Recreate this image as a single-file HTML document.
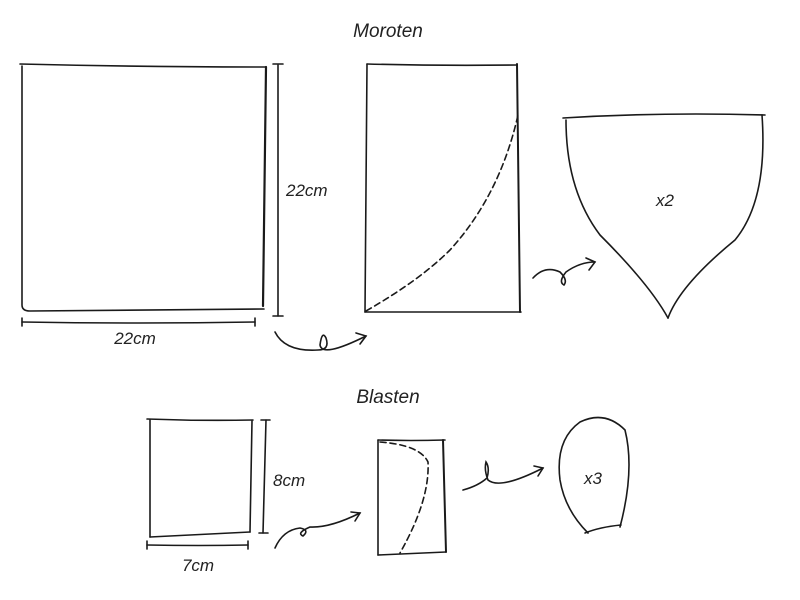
<!DOCTYPE html>
<html><head><meta charset="utf-8"><style>
html,body{margin:0;padding:0;background:#fff;}
svg{display:block;}
text{font-family:"Liberation Sans",sans-serif;font-style:italic;fill:#222;}
</style></head><body>
<svg width="800" height="600" viewBox="0 0 800 600" fill="none" stroke="#1a1a1a" stroke-width="1.6" stroke-linecap="round">
<text x="388" y="37" font-size="19" text-anchor="middle" stroke="none">Moroten</text>
<!-- big square -->
<path d="M20 64 Q140 67 266 67"/>
<path d="M22 66 L22 305 Q22 311 30 311 L264 309"/>
<path d="M266 67 L263 306" stroke-width="2.2"/>
<path d="M278 65 L278 316" /><path d="M273 64 L283 64"/><path d="M273 316 L283 316"/>
<text x="286" y="196" font-size="17" stroke="none">22cm</text>
<path d="M22 322 Q140 324 255 322"/><path d="M22 318 L22 326"/><path d="M255 318 L255 326"/>
<text x="135" y="344" font-size="17" text-anchor="middle" stroke="none">22cm</text>
<!-- arrow 1 -->
<path d="M275 332 Q285 352 318 350 Q330 350 326 338 Q322 330 320 345 Q322 358 366 336"/>
<path d="M356 333 L366 336 L360 344"/>
<!-- rect 2 -->
<path d="M367 64 Q440 66 517 65"/>
<path d="M367 64 L365 312"/>
<path d="M365 312 L521 312"/>
<path d="M517 64 L520 312" stroke-width="2"/>
<path d="M366 311 Q420 280 450 250 Q500 195 518 115" stroke-dasharray="6,4"/>
<!-- arrow 2 -->
<path d="M533 278 Q545 265 560 272 Q568 280 564 285 Q558 282 566 272 Q580 262 595 262"/>
<path d="M586 258 L595 262 L589 270"/>
<!-- shield -->
<path d="M563 118 Q660 112 765 115"/>
<path d="M566 120 Q566 190 600 235 Q650 285 668 318"/>
<path d="M762 115 Q768 200 735 240 Q680 285 668 318"/>
<text x="665" y="206" font-size="17" text-anchor="middle" stroke="none">x2</text>

<text x="388" y="403" font-size="19" text-anchor="middle" stroke="none">Blasten</text>
<!-- small square -->
<path d="M147 419 Q200 421 253 420"/>
<path d="M150 420 L150 537"/>
<path d="M150 537 L250 532"/>
<path d="M252 421 L250 532"/>
<path d="M266 420 L263 533"/><path d="M261 420 L270 420"/><path d="M259 533 L268 533"/>
<text x="273" y="486" font-size="17" stroke="none">8cm</text>
<path d="M147 545 Q200 546 248 545"/><path d="M147 541 L147 549"/><path d="M248 541 L248 549"/>
<text x="198" y="571" font-size="17" text-anchor="middle" stroke="none">7cm</text>
<!-- arrow 3 -->
<path d="M275 548 Q283 530 300 528 Q310 530 303 536 Q296 533 310 527 Q330 528 360 513"/>
<path d="M351 512 L360 513 L355 521"/>
<!-- rect small -->
<path d="M378 440 Q410 441 445 440"/>
<path d="M378 440 L378 555"/>
<path d="M378 555 L446 552"/>
<path d="M443 440 L446 552" stroke-width="2"/>
<path d="M380 442 Q420 445 428 462 Q430 500 400 553" stroke-dasharray="6,4"/>
<!-- arrow 4 -->
<path d="M463 490 Q478 486 487 478 Q490 468 486 462 Q484 470 488 480 Q500 490 543 468"/>
<path d="M534 466 L543 468 L538 476"/>
<!-- teardrop -->
<path d="M588 533 Q565 510 560 480 Q555 440 580 422 Q605 410 625 430 Q635 470 620 527"/>
<path d="M585 533 Q600 527 621 525"/>
<text x="593" y="484" font-size="17" text-anchor="middle" stroke="none">x3</text>
</svg>
</body></html>
